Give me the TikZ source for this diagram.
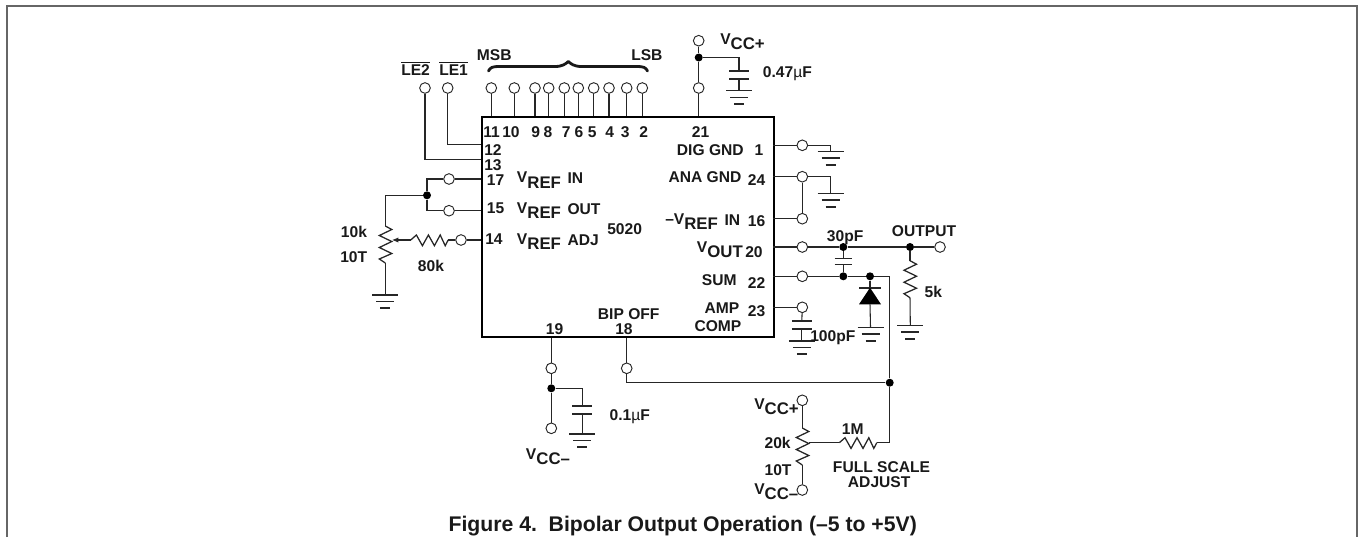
\documentclass[tikz,border=0pt]{standalone}
\usepackage{fontspec}
\setmainfont{Liberation Sans}
\usetikzlibrary{calc,arrows.meta}
\newcounter{lb}
\newcommand\lbl[3]{\stepcounter{lb}\node[lbl] (lb\arabic{lb}) at (#1,#2) {#3};}
\newcommand\vs[1]{V\raisebox{-4pt}{\fontsize{12.6}{13}\selectfont #1}}
\newcommand\ol[1]{$\overline{\mbox{#1}}$}
\newcommand\term[3]{\node[term] (#1) at (#2,#3) {};}
\newcommand\junc[3]{\node[junc] (#1) at (#2,#3) {};}
\newcommand\pt[3]{\coordinate (#1) at (#2,#3);}
\tikzset{
  wire/.style={line width=0.8pt,black!85},
  term/.style={circle,draw=black!85,line width=0.7pt,fill=white,minimum size=8pt,inner sep=0pt},
  junc/.style={circle,fill=black,minimum size=6pt,inner sep=0pt},
  lbl/.style={anchor=base west,inner sep=0pt,font=\bfseries\fontsize{11.7}{12}\selectfont,text=black!90},
  gnd/.pic={
    \draw[wire,line width=1.1pt] (-13,0)--(13,0);
    \draw[wire,line width=1.1pt] (-9,6.7)--(9,6.7);
    \draw[wire,line width=1.4pt] (-5,13.3)--(5,13.3);
  },
  plates/.pic={
    \draw[wire,line width=1.2pt] (-10,0)--(10,0);
    \draw[wire,line width=1.2pt] (-10,8)--(10,8);
  },
  smallplates/.pic={
    \draw[wire,line width=1.2pt] (-8.7,0)--(8.7,0);
    \draw[wire,line width=1.2pt] (-8.7,6)--(8.7,6);
  },
  vzig/.pic={% zigzag running downwards
    \draw[wire,line width=0.95pt] (0,0)--(6.5,3.5)--(-6,9.5)--(6.5,15.5)--(-6,21.5)--(6.5,27.5)--(-6,33)--(0,37);
  },
  hzig/.pic={% zigzag running rightwards
    \draw[wire,line width=0.95pt] (0,0)--(5.7,-5)--(11.7,5.7)--(17.7,-5)--(23.7,5.7)--(29.5,-5)--(34.5,5.7)--(37.5,0);
  },
}
\begin{document}
\begin{tikzpicture}[x=0.75pt,y=-0.75pt]
\useasboundingbox (0,0) rectangle (1358,537);
% frame
\pt{fa}{7}{537}\pt{fb}{7}{5.5}\pt{fc}{1356.5}{5.5}\pt{fd}{1356.5}{537}
\draw[line width=1.5pt,black!60] (fa)--(fb)--(fc)--(fd);
% chip
\node[draw=black,line width=1.7pt,inner sep=0pt,minimum width=219pt,minimum height=165pt,anchor=north west] (ic) at (481,116) {};
% top terminals
\term{le2}{425}{88}\term{le1}{447.7}{88}
\term{p11}{491.3}{88}\term{p10}{514.3}{88}\term{p9}{535}{88}\term{p8}{548.7}{88}
\term{p7}{564.3}{88}\term{p6}{578.3}{88}\term{p5}{593.7}{88}\term{p4}{609}{88}
\term{p3}{626.7}{88}\term{p2}{642.3}{88}
\foreach \n in {p11,p10,p9,p8,p7,p6,p5,p4,p3,p2}{\draw[wire] (\n) -- (\n |- ic.north);}
\pt{a12}{481}{144.3}\pt{a13}{481}{159.7}
\draw[wire] (le1) |- (a12);
\draw[wire] (le2) |- (a13);
% Vcc+ on pin 21
\term{t21}{698.7}{88}\term{vccp}{698.7}{40.7}\junc{j21}{698.7}{57.5}
\draw[wire] (vccp)--(j21)--(t21)--(t21 |- ic.north);
\pt{c21}{739}{70.7}\pt{c21b}{739}{78}\pt{g21}{739}{90.7}
\draw[wire] (j21) -| (c21);
\draw[wire] (c21b)--(g21);
\pic at (c21) {plates};
\pic at (g21) {gnd};
% Vref loop
\term{t17}{449}{179}\term{t15}{449}{210.7}\junc{j1}{427}{195.3}
\pt{i17}{481}{179}\pt{i15}{481}{210.7}\pt{l17}{427}{179}\pt{l15}{427}{210.7}
\draw[wire] (i17)--(t17)--(l17)--(j1)--(l15)--(t15)--(i15);
\pt{pot}{385.3}{226}\pt{potb}{385.3}{263}\pt{g1}{385.3}{295}\pt{wip}{391.8}{240}
\draw[wire] (j1) -| (pot);
\pic at (pot) {vzig};
\draw[wire] (potb)--(g1);
\pic at (g1) {gnd};
\term{t14}{461}{240}\pt{i14}{481}{240}\pt{r80}{410.7}{240}\pt{r80b}{448.2}{240}
\draw[wire] (i14)--(t14)--(r80b);
\pic at (r80) {hzig};
\draw[wire,-{Latex[length=5pt,width=4pt]}] (r80)--(wip);
% right pins
\pt{i1}{773}{145.3}\pt{i24}{773}{176.7}\pt{i16}{773}{218.7}\pt{i20}{773}{247}\pt{i22}{773}{276.3}\pt{i23}{773}{307.3}
\term{t1}{802.3}{145.3}\term{t24}{802.3}{176.7}\term{t16}{802.3}{218.7}\term{t20}{802.3}{247}\term{t22}{802.3}{276.3}\term{t23}{802.3}{307.3}
\pt{g2}{830.7}{151.3}\pt{g3}{830.7}{193.3}
\draw[wire] (i1)--(t1) -| (g2);
\draw[wire] (i24)--(t24) -| (g3);
\draw[wire] (i16)--(t16)--(t24);
\pic at (g2) {gnd};
\pic at (g3) {gnd};
% output
\junc{j30}{843.3}{247}\junc{jout}{910}{247}\term{tout}{940}{247}
\draw[wire] (i20)--(t20)--(j30)--(jout)--(tout);
\junc{j30b}{843.3}{276.3}\junc{jd}{870}{276.3}\pt{turn}{889.7}{276.3}\junc{jbip}{889.7}{382.7}
\draw[wire] (i22)--(t22)--(j30b)--(jd)--(turn)--(jbip);
\pt{c30}{843.3}{258.3}\pt{c30b}{843.3}{264.3}
\draw[wire] (j30)--(c30);
\draw[wire] (c30b)--(j30b);
\pic at (c30) {smallplates};
% 5k
\pt{r5}{910}{260.7}\pt{r5b}{910}{297.7}\pt{g5}{910.3}{325.3}
\draw[wire] (jout)--(r5);
\pic at (r5) {vzig};
\draw[wire] (r5b)--(g5);
\pic at (g5) {gnd};
% diode
\pt{da}{870}{287.7}\pt{db}{870}{304.3}\pt{g6}{870.5}{327.3}
\draw[wire] (jd)--(da);
\draw[wire,line width=1.2pt] (859,287.7)--(881,287.7);
\fill[black] (da)--(859,304.3)--(881,304.3)--cycle;
\draw[wire] (db)--(g6);
\pic at (g6) {gnd};
% pin 23 cap
\pt{c23}{801.8}{321}\pt{c23b}{801.8}{329}\pt{g7}{801.8}{341}
\draw[wire] (t23)--(c23);
\draw[wire] (i23)--(t23);
\draw[wire] (c23b)--(g7);
\pic at (c23) {plates};
\pic at (g7) {gnd};
% bottom pins
\term{t19}{551.3}{368.3}\junc{j19}{551.3}{388.3}\term{vccm}{551.3}{428.3}
\draw[wire] (t19 |- ic.south)--(t19)--(j19)--(vccm);
\pt{c19}{582.3}{406}\pt{c19b}{582.3}{414}\pt{g8}{582.3}{434}
\draw[wire] (j19) -| (c19);
\draw[wire] (c19b)--(g8);
\pic at (c19) {plates};
\pic at (g8) {gnd};
\term{t18}{626.7}{368.3}
\draw[wire] (t18 |- ic.south)--(t18) |- (jbip);
% full-scale
\term{rt}{802.3}{400.3}\term{rb}{802.3}{490}
\pt{z}{802.3}{428}\pt{zb}{802.3}{465}\pt{w}{808.8}{442.7}\pt{m}{839.3}{442.7}\pt{mb}{876.8}{442.7}\pt{mc}{889.7}{442.7}
\draw[wire] (rt)--(z);
\pic at (z) {vzig};
\draw[wire] (zb)--(rb);
\draw[wire] (w)--(m);
\pic at (m) {hzig};
\draw[wire] (mb)--(mc)--(jbip);
% brace
\draw[line width=2.1pt,line cap=round,line join=round,black!90] (488.5,71) .. controls (490,67.5) and (493,66.5) .. (498,66.5) -- (555,66.5) .. controls (563,66.5) and (566,63.5) .. (568.3,61.5) .. controls (570.6,63.5) and (573.6,66.5) .. (581.6,66.5) -- (638,66.5) .. controls (643,66.5) and (646,67.5) .. (647.5,71);
% labels
\lbl{476.7}{60}{MSB}\lbl{631}{60}{LSB}
\lbl{401}{75.3}{\ol{LE2}}\lbl{439}{75.3}{\ol{LE1}}
\lbl{483}{137.3}{11}\lbl{502}{137.3}{10}\lbl{531}{137.3}{9}\lbl{543.3}{137.3}{8}\lbl{561.7}{137.3}{7}
\lbl{574.3}{137.3}{6}\lbl{587.7}{137.3}{5}\lbl{605}{137.3}{4}\lbl{620.7}{137.3}{3}\lbl{639}{137.3}{2}\lbl{691.7}{137.3}{21}
\lbl{484}{155}{12}\lbl{484}{170}{13}\lbl{486.7}{185.3}{17}\lbl{486.7}{213.3}{15}\lbl{485}{244.3}{14}
\lbl{516.7}{182.7}{\vs{REF}}\lbl{567.3}{183.3}{IN}
\lbl{516.7}{213.3}{\vs{REF}}\lbl{567.3}{214.3}{OUT}
\lbl{516.7}{244.3}{\vs{REF}}\lbl{567.3}{245.7}{ADJ}
\lbl{607}{234.3}{5020}
\lbl{340.7}{237.3}{10k}\lbl{340}{262.3}{10T}\lbl{417.7}{271.7}{80k}
\lbl{720}{44.3}{\vs{CC+}}
\lbl{762.7}{77.3}{0.47{\mdseries µ}F}
\lbl{676.7}{155}{DIG GND}\lbl{754.3}{155}{1}
\lbl{668.3}{182.7}{ANA GND}\lbl{747.7}{185}{24}
\lbl{665}{224}{–\vs{REF}}\lbl{724.3}{225}{IN}\lbl{747.7}{226.7}{16}
\lbl{696.7}{252.3}{\vs{OUT}}\lbl{745}{257.3}{20}
\lbl{826.7}{241.7}{30pF}\lbl{891.7}{236.7}{OUTPUT}
\lbl{701.7}{285}{SUM}\lbl{747.7}{288.3}{22}
\lbl{704.3}{313.3}{AMP}\lbl{694.3}{331}{COMP}\lbl{747.7}{316}{23}
\lbl{597.7}{319.3}{BIP OFF}\lbl{615}{334}{18}\lbl{545.7}{334}{19}
\lbl{810}{341.7}{100pF}\lbl{924.3}{297.7}{5k}
\lbl{609.3}{420.7}{0.1{\mdseries µ}F}
\lbl{525.7}{459}{\vs{CC–}}
\lbl{754}{409}{\vs{CC+}}\lbl{764.3}{448.3}{20k}\lbl{764.3}{475}{10T}\lbl{754}{494.3}{\vs{CC–}}
\lbl{841.7}{434}{1M}\lbl{832.7}{472.3}{FULL SCALE}\lbl{847.7}{487.7}{ADJUST}
\node[anchor=base,inner sep=0pt,font=\bfseries\fontsize{15.9}{17}\selectfont,text=black!90] (cap) at (682.7,531.7) {Figure 4.\ \ Bipolar Output Operation (–5 to +5V)};
\end{tikzpicture}
\end{document}
